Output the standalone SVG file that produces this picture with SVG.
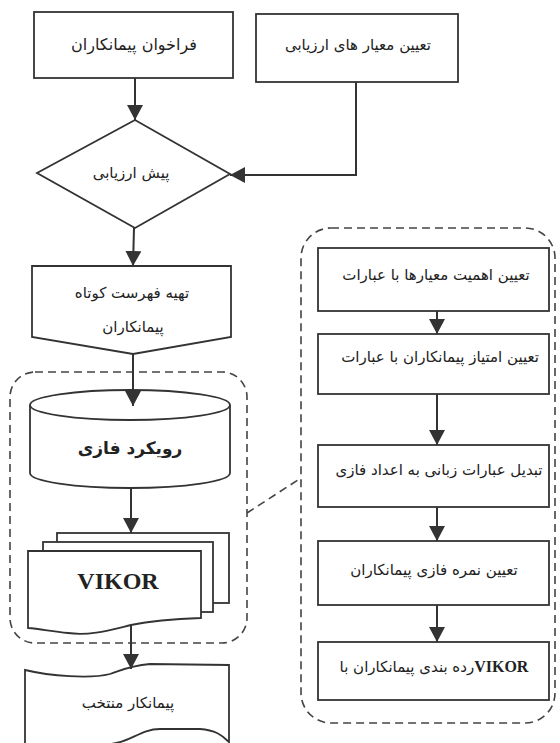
<svg xmlns="http://www.w3.org/2000/svg" width="560" height="743" viewBox="0 0 560 743">
<style>
  .shape{fill:#fff;stroke:#333;stroke-width:1.8}
  .dash{fill:none;stroke:#444;stroke-width:1.6;stroke-dasharray:8 5}
  .conn{fill:none;stroke:#333;stroke-width:2}
  .fa{font-family:'DejaVu Sans',sans-serif;font-size:15px;fill:#222;text-anchor:middle}
  .fab{font-family:'DejaVu Sans',sans-serif;font-size:17px;font-weight:bold;fill:#222;text-anchor:middle}
  .lat{font-family:'Liberation Serif',serif;font-weight:bold;fill:#222}
</style>
<defs>
  <marker id="arr" markerUnits="userSpaceOnUse" markerWidth="16" markerHeight="16" refX="15" refY="8" orient="auto">
    <path d="M0,0 L15,8 L0,16 Z" fill="#333"/>
  </marker>
</defs>
<rect width="560" height="743" fill="#fff"/>

<g id="group-left">
  <rect class="dash" x="10" y="372" width="237" height="271" rx="25"/>
</g>
<g id="group-right">
  <rect class="dash" x="301" y="228" width="254" height="495" rx="30"/>
</g>

<g id="n-call">
  <rect class="shape" x="34" y="12" width="199" height="66"/>
  <text class="fa" x="134" y="50" style="font-size:16px">فراخوان پیمانکاران</text>
</g>
<g id="n-criteria">
  <rect class="shape" x="256" y="14" width="202" height="68"/>
  <text class="fa" x="358" y="50">تعیین معیار های ارزیابی</text>
</g>
<g id="n-preeval">
  <polygon class="shape" points="135,120 230,174 135,228 37,173"/>
  <text class="fa" x="131" y="178">پیش ارزیابی</text>
</g>
<g id="n-shortlist">
  <polygon class="shape" points="32,266 231,266 231,337 133,354 32,337"/>
  <text class="fa" x="132" y="298">تهیه فهرست کوتاه</text>
  <text class="fa" x="133" y="332">پیمانکاران</text>
</g>
<g id="n-fuzzy">
  <path class="shape" d="M30,405 A100,15 0 0 1 230,405 V473 A100,15 0 0 1 30,473 Z"/>
  <path class="shape" fill="none" d="M30,405 A100,15 0 0 0 230,405"/>
  <text class="fab" x="130" y="454">رویکرد فازی</text>
</g>
<g id="n-vikor">
  <rect class="shape" x="57" y="533" width="172" height="70"/>
  <rect class="shape" x="43" y="542" width="170" height="70"/>
  <path class="shape" d="M28,551 H201 V618 C170,619 150,621 131,625 C110,630 90,636 68,633 C50,631 40,629 28,628 Z"/>
  <text class="lat" x="118" y="589" font-size="24" text-anchor="middle">VIKOR</text>
</g>
<g id="n-selected">
  <path class="shape" d="M25,670 C50,676 90,679 110,674 C120,671 128,666 150,664 L229,665 L229,742 C222,735 215,730 200,729 L160,729 C140,729 130,743 110,744 L25,744 Z"/>
  <text class="fa" x="128" y="708">پیمانکار منتخب</text>
</g>

<g id="r1">
  <rect class="shape" x="318" y="248" width="231" height="63"/>
  <text class="fa" x="436" y="280">تعیین اهمیت معیارها با عبارات</text>
</g>
<g id="r2">
  <rect class="shape" x="318" y="334" width="231" height="60"/>
  <text class="fa" x="440" y="362">تعیین امتیاز پیمانکاران با عبارات</text>
</g>
<g id="r3">
  <rect class="shape" x="318" y="445" width="231" height="62"/>
  <text class="fa" x="439" y="475">تبدیل عبارات زبانی به اعداد فازی</text>
</g>
<g id="r4">
  <rect class="shape" x="318" y="541" width="231" height="64"/>
  <text class="fa" x="434" y="575">تعیین نمره فازی پیمانکاران</text>
</g>
<g id="r5">
  <rect class="shape" x="318" y="642" width="231" height="58"/>
  <text class="fa" x="434" y="672" direction="rtl"><tspan class="lat" font-size="16">VIKOR</tspan>رده بندی پیمانکاران با</text>
</g>

<g id="connectors">
  <line class="conn" x1="135" y1="78" x2="135" y2="120" marker-end="url(#arr)"/>
  <polyline class="conn" points="356,82 356,175 230,175" marker-end="url(#arr)"/>
  <line class="conn" x1="134" y1="228" x2="133" y2="266" marker-end="url(#arr)"/>
  <line class="conn" x1="133" y1="354" x2="133" y2="406" marker-end="url(#arr)"/>
  <line class="conn" x1="131" y1="488" x2="131" y2="533" marker-end="url(#arr)"/>
  <line class="conn" x1="131" y1="625" x2="131" y2="669" marker-end="url(#arr)"/>
  <line class="conn" x1="437" y1="311" x2="437" y2="334" marker-end="url(#arr)"/>
  <line class="conn" x1="437" y1="394" x2="437" y2="445" marker-end="url(#arr)"/>
  <line class="conn" x1="437" y1="507" x2="437" y2="541" marker-end="url(#arr)"/>
  <line class="conn" x1="437" y1="605" x2="437" y2="642" marker-end="url(#arr)"/>
  <line class="dash" x1="247" y1="513" x2="301" y2="478"/>
</g>
</svg>
